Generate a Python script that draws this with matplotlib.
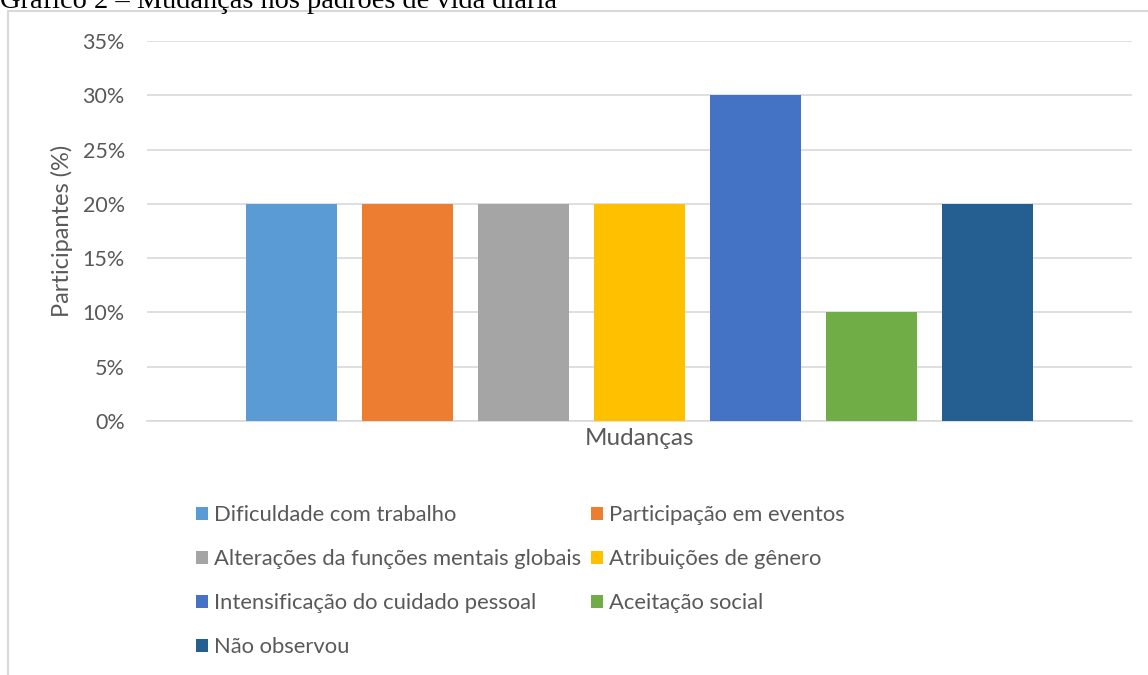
import matplotlib.pyplot as plt
from matplotlib.patches import Rectangle
from matplotlib.ticker import FuncFormatter

categories = ["Dificuldade com trabalho", "Participação em eventos",
              "Alterações da funções mentais globais", "Atribuições de gênero",
              "Intensificação do cuidado pessoal", "Aceitação social",
              "Não observou"]
values = [20, 20, 20, 20, 30, 10, 20]
colors = ["#5B9BD5", "#ED7D31", "#A5A5A5", "#FFC000", "#4472C4", "#70AD47", "#255E91"]
yticks = [0, 5, 10, 15, 20, 25, 30, 35]

plt.rcParams['font.family'] = ['Lato', 'DejaVu Sans']
txt = "#595959"

fig = plt.figure(figsize=(11.48, 6.75), dpi=100)
W, H = 1148, 675

# moldura do gráfico
fig.patches.append(Rectangle((8 / W, -0.1), 1.2, 1 - 11 / H + 0.1, transform=fig.transFigure,
                             fill=False, edgecolor="#d9d9d9", linewidth=1.5))
fig.text(0, 1 - 8 / H, "Gráfico 2 – Mudanças nos padrões de vida diária",
         family="Liberation Serif", fontsize=20.4, va="baseline", ha="left", color="black")

ax = fig.add_axes([147 / W, 1 - 421 / H, (1132 - 147) / W, (421 - 41) / H])
n = len(values)
handles = []
for i, (cat, v, c) in enumerate(zip(categories, values, colors)):
    b = ax.bar(i - (n - 1) / 2, v, width=0.79, color=c, label=cat, zorder=3)
    handles.append(b)

ax.set_xlim(-4.245, 4.245)
ax.set_ylim(0, 35)
ax.set_yticks(yticks)
ax.yaxis.set_major_formatter(FuncFormatter(lambda v, p: f"{v:.0f}%"))
ax.set_xticks([])
ax.grid(axis="y", color="#d9d9d9", linewidth=1.2, zorder=0)
for s in ["top", "right", "left"]:
    ax.spines[s].set_visible(False)
ax.spines["bottom"].set_color("#d9d9d9")
ax.spines["bottom"].set_linewidth(1.2)
ax.tick_params(axis="y", length=0, labelsize=15.5, colors=txt, pad=16)
ax.set_xlabel("Mudanças", fontsize=17.5, color=txt, labelpad=5)
ax.set_ylabel("Participantes (%)", fontsize=17, color=txt, labelpad=7)

# ordem da legenda: preencher por linhas como no Excel
order = [0, 2, 4, 6, 1, 3, 5]
leg = fig.legend([handles[i] for i in order], [categories[i] for i in order],
                 ncol=2, loc="upper left", bbox_to_anchor=(196 / W, 1 - 505 / H),
                 frameon=False, fontsize=15.8, handlelength=0.55, handleheight=0.55,
                 handletextpad=0.27, columnspacing=0.45, labelspacing=1.1,
                 borderpad=0, borderaxespad=0, labelcolor=txt)

fig.savefig("out.png", dpi=100)
